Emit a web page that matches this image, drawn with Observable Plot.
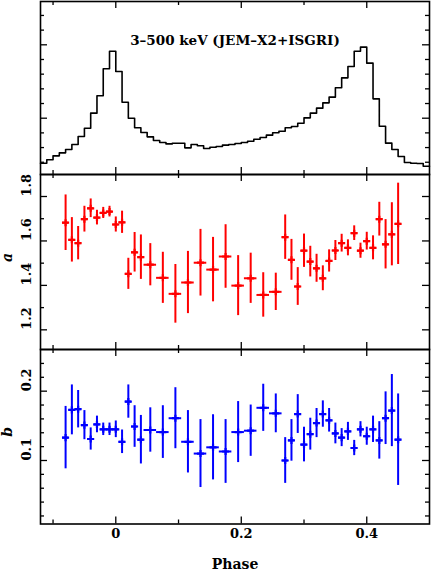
<!DOCTYPE html>
<html><head><meta charset="utf-8">
<script src="https://cdn.jsdelivr.net/npm/d3@7"></script>
<script src="https://cdn.jsdelivr.net/npm/@observablehq/plot@0.6"></script>
<style>
body{margin:0;background:#fff;}
#chart{position:relative;width:431px;height:575px;background:#fff;}
#chart svg{position:absolute;left:0;overflow:visible;}
</style></head><body><div id="chart"></div>
<script>
// ---- Pulse profile (3-500 keV), bin left edges and relative rate ----
const profileEdges = [-0.12,-0.11,-0.10,-0.09,-0.08,-0.07,-0.06,-0.05,-0.04,-0.03,-0.02,-0.01,
  0.00,0.01,0.02,0.03,0.04,0.05,0.06,0.07,0.08,0.09,0.10,0.11,0.12,0.13,0.14,0.15,0.16,0.17,
  0.18,0.19,0.20,0.21,0.22,0.23,0.24,0.25,0.26,0.27,0.28,0.29,0.30,0.31,0.32,0.33,0.34,0.35,
  0.36,0.37,0.38,0.39,0.40,0.41,0.42,0.43,0.44,0.45,0.46,0.47,0.48,0.49];
const profileEnd = 0.50;
const profileRate = [0.387,0.433,0.487,0.528,0.574,0.642,0.751,0.864,1.069,1.305,1.673,1.913,
  1.636,1.218,1.000,0.869,0.805,0.746,0.696,0.669,0.650,0.659,0.659,0.596,0.642,0.624,0.587,
  0.605,0.614,0.633,0.642,0.655,0.669,0.687,0.714,0.737,0.769,0.801,0.823,0.869,0.887,0.932,
  1.005,1.069,1.137,1.209,1.287,1.414,1.550,1.704,1.913,1.968,1.750,1.264,0.891,0.660,0.574,
  0.479,0.396,0.387,0.382,0.346];

// ---- Fitted parameters per phase bin ----
const phase = [-0.08,-0.07,-0.06,-0.05,-0.04,-0.03,-0.02,-0.01,0.00,0.01,0.02,0.03,0.04,
  0.055,0.075,0.095,0.115,0.135,0.155,0.175,0.195,0.215,0.235,0.255,
  0.27,0.28,0.29,0.30,0.31,0.32,0.33,0.34,0.35,0.36,0.37,0.38,0.39,0.40,0.41,0.42,0.43,0.44,0.45];
const halfWidth = [0.005,0.005,0.005,0.005,0.005,0.005,0.005,0.005,0.005,0.005,0.005,0.005,0.005,
  0.01,0.01,0.01,0.01,0.01,0.01,0.01,0.01,0.01,0.01,0.01,
  0.005,0.005,0.005,0.005,0.005,0.005,0.005,0.005,0.005,0.005,0.005,0.005,0.005,0.005,0.005,0.005,0.005,0.005,0.005];
const aVal = [1.682,1.605,1.590,1.698,1.747,1.705,1.726,1.732,1.674,1.684,1.452,1.549,1.527,
  1.493,1.434,1.362,1.413,1.502,1.471,1.530,1.399,1.432,1.357,1.371,
  1.617,1.515,1.395,1.556,1.507,1.477,1.432,1.510,1.557,1.590,1.569,1.635,1.556,1.599,1.569,1.698,1.585,1.630,1.677];
const aErr = [0.125,0.100,0.075,0.058,0.042,0.033,0.025,0.024,0.034,0.050,0.070,0.089,0.100,
  0.095,0.115,0.132,0.140,0.150,0.145,0.143,0.135,0.113,0.100,0.084,
  0.100,0.092,0.085,0.075,0.069,0.063,0.056,0.050,0.045,0.040,0.036,0.033,0.034,0.040,0.054,0.076,0.111,0.142,0.183];
const bVal = [0.133,0.173,0.174,0.151,0.131,0.152,0.145,0.145,0.145,0.127,0.185,0.149,0.130,
  0.144,0.141,0.161,0.127,0.110,0.119,0.113,0.141,0.143,0.176,0.168,
  0.100,0.129,0.167,0.123,0.138,0.154,0.167,0.158,0.139,0.133,0.142,0.118,0.145,0.135,0.145,0.129,0.161,0.172,0.130];
const bErr = [0.045,0.036,0.027,0.021,0.016,0.012,0.009,0.009,0.012,0.017,0.024,0.030,0.035,
  0.032,0.038,0.044,0.045,0.049,0.047,0.046,0.044,0.037,0.034,0.028,
  0.033,0.030,0.028,0.025,0.023,0.021,0.019,0.017,0.015,0.013,0.013,0.011,0.011,0.013,0.019,0.027,0.038,0.052,0.066];

// ---- Axes / ticks ----
const xDomain = [-0.12, 0.5];
const xMajor = [0, 0.2, 0.4];
const xMinor = [-0.1, 0.1, 0.3];
const xTickLabels = ["0", "0.2", "0.4"];
const pMajor = [1, 2];
const pMinor = [0.4,0.6,0.8,1.2,1.4,1.6,1.8,2.2,2.4];
const aMajor = [1.2, 1.4, 1.6, 1.8];
const aMinor = [1.3, 1.5, 1.7];
const aTickLabels = ["1.2", "1.4", "1.6", "1.8"];
const bMajor = [0.1, 0.2];
const bMinor = [0.02,0.04,0.06,0.08,0.12,0.14,0.16,0.18,0.22,0.24];
const bTickLabels = ["0.1", "0.2"];
const titleText = "3–500 keV (JEM–X2+ISGRI)";
const xLabel = "Phase";
const aLabel = "a";
const bLabel = "b";

const W = 431, ML = 40, MR = 2;
const FONT = "DejaVu Serif";
const fw = W - ML - MR;

function tickMarks(fh, major, minor) {
  const majL = 7, minL = 4;
  const m = [];
  for (const [vals, L] of [[xMajor, majL], [xMinor, minL]]) {
    m.push(Plot.tickX(vals, {x: d => d, insetTop: fh - L, stroke: "black", strokeWidth: 1.3}));
    m.push(Plot.tickX(vals, {x: d => d, insetBottom: fh - L, stroke: "black", strokeWidth: 1.3}));
  }
  for (const [vals, L] of [[major, majL], [minor, minL]]) {
    m.push(Plot.tickY(vals, {y: d => d, insetRight: fw - L, stroke: "black", strokeWidth: 1.3}));
    m.push(Plot.tickY(vals, {y: d => d, insetLeft: fw - L, stroke: "black", strokeWidth: 1.3}));
  }
  return m;
}

function place(svg, top) {
  svg.style.top = top + "px";
  document.getElementById("chart").appendChild(svg);
}

const baseStyle = {fontFamily: FONT, fontSize: "13px", background: "transparent", overflow: "visible"};

// ---- Panel 1: profile ----
{
  const fh = 173;
  const rows = profileEdges.map((e, i) => ({x: e, y: profileRate[i]}));
  rows.push({x: profileEnd, y: profileRate[profileRate.length - 1]});
  const svg = Plot.plot({
    width: W, height: fh + 1, marginTop: 1, marginBottom: 0, marginLeft: ML, marginRight: MR,
    style: baseStyle,
    x: {domain: xDomain, axis: null},
    y: {domain: [0.233, 2.590], axis: null},
    marks: [
      Plot.line(rows, {x: "x", y: "y", curve: "step-after", stroke: "black", strokeWidth: 1.6}),
      Plot.text([titleText], {frameAnchor: "top", dy: 34, fontWeight: "bold", fontSize: 13.5, fill: "black"}),
      ...tickMarks(fh, pMajor, pMinor),
      Plot.frame({stroke: "black", strokeWidth: 1.6})
    ]
  });
  place(svg, 0);
}

function paramPanel(top, fh, extraBottom, domain, val, err, color, major, minor, labels, label, withX) {
  const idx = d3.range(phase.length);
  const marks = [
    Plot.ruleY(idx, {y: i => val[i], x1: i => phase[i] - halfWidth[i], x2: i => phase[i] + halfWidth[i], stroke: color, strokeWidth: 2}),
    Plot.ruleX(idx, {x: i => phase[i], y1: i => val[i] - err[i], y2: i => val[i] + err[i], stroke: color, strokeWidth: 2}),
    Plot.dot(idx, {x: i => phase[i], y: i => val[i], symbol: "plus", r: 2.4, stroke: color, strokeWidth: 2.2}),
    Plot.text(major, {y: d => d, text: (d, i) => labels[i], frameAnchor: "left", dx: -14, rotate: -90, fontSize: 13, fontWeight: "bold", fill: "black"}),
    Plot.text([label], {frameAnchor: "left", dx: -33, rotate: -90, fontStyle: "italic", fontWeight: "bold", fontSize: 14, fill: "black"}),
    ...tickMarks(fh, major, minor),
    Plot.frame({stroke: "black", strokeWidth: 1.6})
  ];
  if (withX) {
    marks.push(Plot.text(xMajor, {x: d => d, text: (d, i) => xTickLabels[i], frameAnchor: "bottom", dy: 14, fontSize: 13, fontWeight: "bold", fill: "black"}));
    marks.push(Plot.text([xLabel], {frameAnchor: "bottom", dy: 45, fontSize: 14, fontWeight: "bold", fill: "black"}));
  }
  const svg = Plot.plot({
    width: W, height: fh + extraBottom, marginTop: 0, marginBottom: extraBottom, marginLeft: ML, marginRight: MR,
    style: baseStyle,
    x: {domain: xDomain, axis: null},
    y: {domain, axis: null},
    marks
  });
  place(svg, top);
}

paramPanel(174, 175, 0, [1.1115, 1.899], aVal, aErr, "#ff0000", aMajor, aMinor, aTickLabels, aLabel, false);
paramPanel(349, 174.5, 51.5, [0.0084, 0.2601], bVal, bErr, "#0000ff", bMajor, bMinor, bTickLabels, bLabel, true);
</script>
</body></html>
